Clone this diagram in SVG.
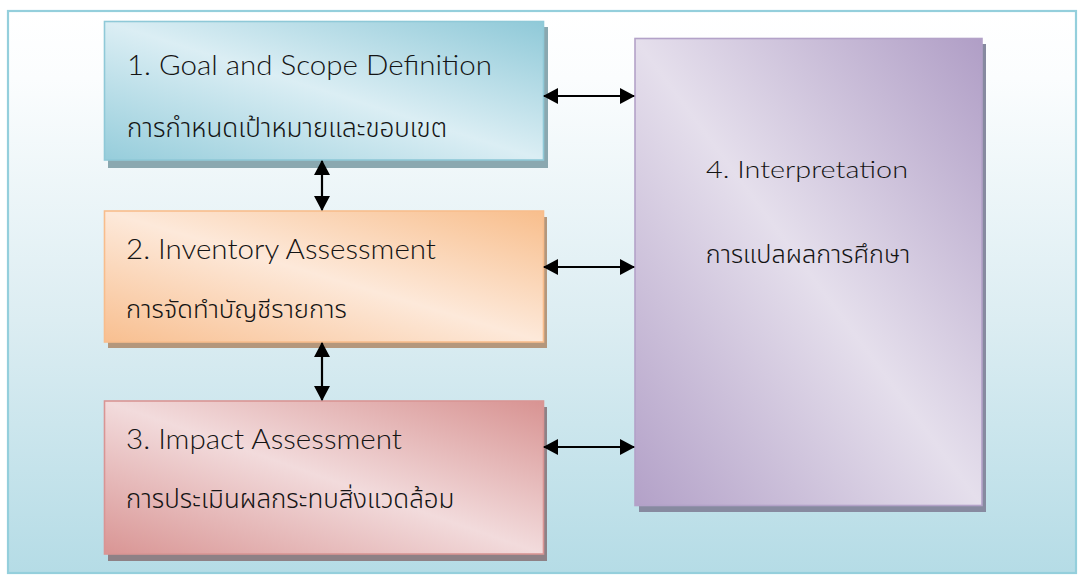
<svg xmlns="http://www.w3.org/2000/svg" width="1078" height="576" viewBox="0 0 1078 576">
<style>
.en{font-family:Lato,"Open Sans","Noto Sans",sans-serif;font-weight:300;fill:#141414;}
.th{font-family:"Noto Sans Thai","Leelawadee UI","Tahoma","Noto Sans",sans-serif;font-weight:300;fill:#141414;}
.conn{stroke:#000;stroke-width:2.2;fill:none;marker-start:url(#ah);marker-end:url(#ah);}
</style>
<defs>
<linearGradient id="bg" x1="0" y1="0" x2="0" y2="1">
<stop offset="0" stop-color="#ffffff"/>
<stop offset="0.12" stop-color="#fbfdfe"/>
<stop offset="0.55" stop-color="#dcedf2"/>
<stop offset="1" stop-color="#b5dce6"/>
</linearGradient>
<linearGradient id="g1" x1="0" y1="1" x2="1" y2="0">
<stop offset="0" stop-color="#96cddb"/>
<stop offset="0.5" stop-color="#dbeef4"/>
<stop offset="1" stop-color="#8fc9d8"/>
</linearGradient>
<linearGradient id="g2" x1="0" y1="1" x2="1" y2="0">
<stop offset="0" stop-color="#f8bf90"/>
<stop offset="0.5" stop-color="#fde9da"/>
<stop offset="1" stop-color="#f8be8c"/>
</linearGradient>
<linearGradient id="g3" x1="0" y1="1" x2="1" y2="0">
<stop offset="0" stop-color="#d99594"/>
<stop offset="0.5" stop-color="#f2dbdc"/>
<stop offset="1" stop-color="#d89392"/>
</linearGradient>
<linearGradient id="g4" x1="0" y1="1" x2="1" y2="0">
<stop offset="0" stop-color="#b3a1c8"/>
<stop offset="0.5" stop-color="#e5dfec"/>
<stop offset="1" stop-color="#b09ec6"/>
</linearGradient>
<marker id="ah" viewBox="0 0 15 16" refX="14" refY="8" markerWidth="15" markerHeight="16" markerUnits="userSpaceOnUse" orient="auto-start-reverse">
<path d="M0,0 L15,8 L0,16 Z" fill="#000"/>
</marker>
</defs>
<rect x="8" y="11" width="1068" height="562" fill="url(#bg)" stroke="#94cfdc" stroke-width="2.2"/>
<g id="node1">
<rect x="108" y="27" width="440" height="141" fill="#8aa8b0"/>
<rect x="104.5" y="21.5" width="439" height="138.5" fill="url(#g1)" stroke="#8fc9d8" stroke-width="1.6"/>
<text class="en" x="127" y="75" font-size="27" textLength="365" lengthAdjust="spacingAndGlyphs">1. Goal and Scope Definition</text>
<text class="th" x="127" y="137" font-size="26">การกำหนดเป้าหมายและขอบเขต</text>
</g>
<g id="node2">
<rect x="108" y="217" width="439" height="131" fill="#b4977c"/>
<rect x="104.5" y="211" width="439" height="131" fill="url(#g2)" stroke="#f8bd8c" stroke-width="1.6"/>
<text class="en" x="126" y="259" font-size="27" textLength="310" lengthAdjust="spacingAndGlyphs">2. Inventory Assessment</text>
<text class="th" x="126" y="318" font-size="25.6">การจัดทำบัญชีรายการ</text>
</g>
<g id="node3">
<rect x="108" y="407" width="439" height="154" fill="#8e8186"/>
<rect x="104.5" y="401" width="439" height="153" fill="url(#g3)" stroke="#d99594" stroke-width="1.6"/>
<text class="en" x="126" y="449" font-size="27" textLength="276" lengthAdjust="spacingAndGlyphs">3. Impact Assessment</text>
<text class="th" x="126" y="508" font-size="25.9">การประเมินผลกระทบสิ่งแวดล้อม</text>
</g>
<g id="node4">
<rect x="639" y="44" width="347" height="468" fill="#878aa0"/>
<rect x="635" y="38.5" width="347" height="467" fill="url(#g4)" stroke="#b3a2c8" stroke-width="1.6"/>
<text class="en" x="807" y="178" font-size="24" text-anchor="middle" textLength="202" lengthAdjust="spacingAndGlyphs">4. Interpretation</text>
<text class="th" x="808" y="263" font-size="25.2" text-anchor="middle">การแปลผลการศึกษา</text>
</g>
<g id="connectors">
<line class="conn" x1="322" y1="161" x2="322" y2="210"/>
<line class="conn" x1="322" y1="343" x2="322" y2="400"/>
<line class="conn" x1="544" y1="96" x2="634" y2="96"/>
<line class="conn" x1="544" y1="267" x2="634" y2="267"/>
<line class="conn" x1="544" y1="447" x2="634" y2="447"/>
</g>
</svg>
